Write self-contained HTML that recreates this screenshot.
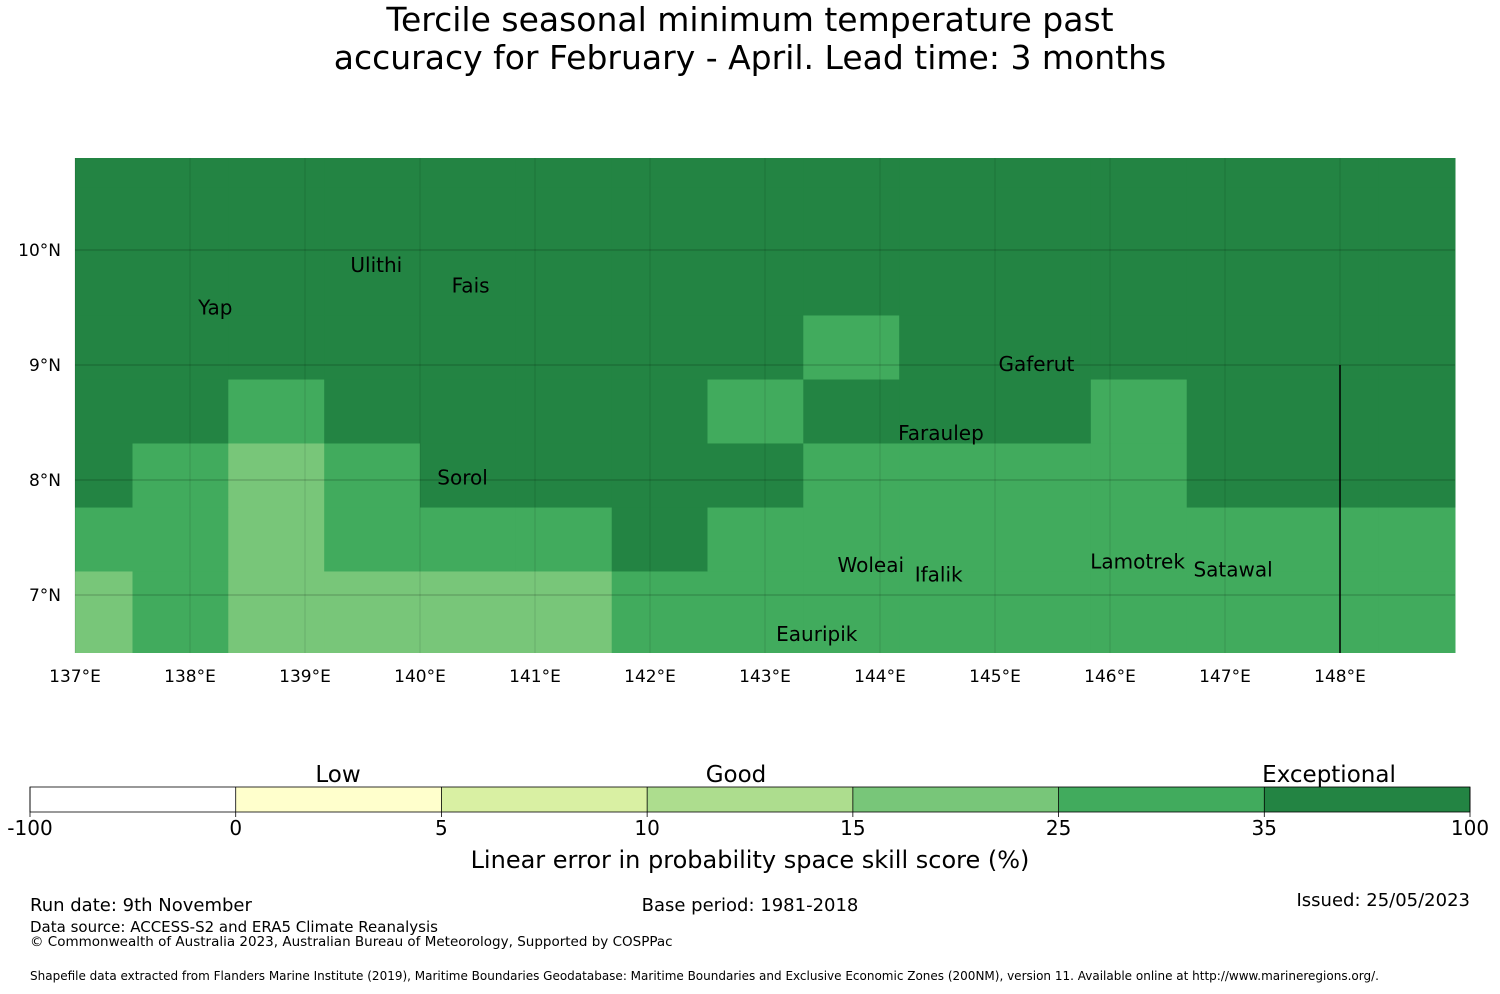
<!DOCTYPE html>
<html><head><meta charset="utf-8"><style>
body{margin:0;background:#fff;font-family:"DejaVu Sans","Liberation Sans",sans-serif;}
svg text{font-family:"DejaVu Sans","Liberation Sans",sans-serif;}
</style></head><body>
<svg id="chart" width="1500" height="990" xmlns="http://www.w3.org/2000/svg">
<text x="750" y="31" font-size="33" text-anchor="middle">Tercile seasonal minimum temperature past</text>
<text x="750" y="69" font-size="33" text-anchor="middle">accuracy for February - April. Lead time: 3 months</text>
<g id="map"></g>
<g id="cbar"></g>
<text x="338" y="782" font-size="23" text-anchor="middle">Low</text>
<text x="736" y="782" font-size="23" text-anchor="middle">Good</text>
<text x="1329" y="782" font-size="23" text-anchor="middle">Exceptional</text>
<text x="750" y="868" font-size="24" text-anchor="middle">Linear error in probability space skill score (%)</text>
<text x="30" y="911" font-size="18">Run date: 9th November</text>
<text x="750" y="911" font-size="18" text-anchor="middle">Base period: 1981-2018</text>
<text x="1470" y="906" font-size="18" text-anchor="end">Issued: 25/05/2023</text>
<text x="30" y="932" font-size="15">Data source: ACCESS-S2 and ERA5 Climate Reanalysis</text>
<text x="30" y="946" font-size="13.5">© Commonwealth of Australia 2023, Australian Bureau of Meteorology, Supported by COSPPac</text>
<text x="30" y="980" font-size="12">Shapefile data extracted from Flanders Marine Institute (2019), Maritime Boundaries Geodatabase: Maritime Boundaries and Exclusive Economic Zones (200NM), version 11. Available online at http://www.marineregions.org/.</text>
</svg>
<script>
const lonEdges=[137,137.5,138.333,139.167,140,140.833,141.667,142.5,143.333,144.167,145,145.833,146.667,147.5,148.333,149];
const latEdges=[6.5,7.209,7.765,8.322,8.878,9.435,9.991,10.548,10.8];
// skill score (%) per row (bottom to top), per column
const skillRows=[
[20,30,20,20,20,20,30,30,30,30,30,30,30,30,30],
[30,30,20,30,30,30,50,30,30,30,30,30,30,30,30],
[50,30,20,30,50,50,50,50,30,30,30,30,50,50,50],
[50,50,30,50,50,50,50,30,50,50,50,30,50,50,50],
[50,50,50,50,50,50,50,50,30,50,50,50,50,50,50],
[50,50,50,50,50,50,50,50,50,50,50,50,50,50,50],
[50,50,50,50,50,50,50,50,50,50,50,50,50,50,50],
[50,50,50,50,50,50,50,50,50,50,50,50,50,50,50]];
const lonTicks=[137,138,139,140,141,142,143,144,145,146,147,148];
const latTicks=[7,8,9,10];
const cbBounds=[-100,0,5,10,15,25,35,100];
const cbColors=['#ffffff','#ffffcc','#d9f0a3','#addd8e','#78c679','#41ab5d','#238443'];
const islands=[["Yap",138.22,9.5],["Ulithi",139.62,9.87],["Fais",140.44,9.69],["Gaferut",145.36,9.01],["Faraulep",144.53,8.41],["Sorol",140.37,8.02],["Woleai",143.92,7.26],["Ifalik",144.51,7.18],["Lamotrek",146.24,7.29],["Satawal",147.07,7.22],["Eauripik",143.45,6.66]];
const NS="http://www.w3.org/2000/svg";
const X=l=>75+(l-137)*115, Y=l=>250-(l-10)*115;
function mk(t,a,p){const e=document.createElementNS(NS,t);for(const k in a)e.setAttribute(k,a[k]);p.appendChild(e);return e;}
function col(v){for(let i=0;i<cbColors.length;i++)if(v<cbBounds[i+1])return cbColors[i];return cbColors[cbColors.length-1];}
const map=document.getElementById('map');
skillRows.forEach((row,r)=>row.forEach((v,c)=>{
 const e=mk('rect',{x:X(lonEdges[c]),y:Y(latEdges[r+1]),width:X(lonEdges[c+1])-X(lonEdges[c])+0.5,height:Y(latEdges[r])-Y(latEdges[r+1])+0.5,fill:col(v)},map);
 
 
}));
lonTicks.forEach(l=>{
 const g=mk('line',{x1:X(l),x2:X(l),y1:158,y2:653,stroke:'#000','stroke-opacity':0.12,'stroke-width':1},map);
 
 
 const t=mk('text',{x:X(l),y:682,'font-size':17,'text-anchor':'middle'},map);t.textContent=l+'°E';
 
 
});
latTicks.forEach(l=>{
 const g=mk('line',{x1:75,x2:1455,y1:Y(l),y2:Y(l),stroke:'#000','stroke-opacity':0.25,'stroke-width':1},map);
 
 
 const t=mk('text',{x:61,y:Y(l)+6,'font-size':17,'text-anchor':'end'},map);t.textContent=l+'°N';
 
 
});
const bl=mk('line',{x1:1340,x2:1340,y1:365,y2:653,stroke:'#000','stroke-width':1.5},map);


islands.forEach(s=>{
 const t=mk('text',{x:X(s[1]),y:Y(s[2])+7,'font-size':20,'text-anchor':'middle'},map);t.textContent=s[0];
 
 
});
const cb=document.getElementById('cbar');
const segW=1440/cbColors.length;
cbColors.forEach((c,i)=>{
 const r=mk('rect',{x:30+i*segW,y:787,width:segW,height:25,fill:c},cb);
 
 
});
mk('rect',{x:30,y:787,width:1440,height:25,fill:'none',stroke:'#000','stroke-width':0.8},cb);
cbBounds.forEach((b,i)=>{
 mk('line',{x1:30+i*segW,x2:30+i*segW,y1:787,y2:817,stroke:'#000','stroke-width':0.8},cb);
 const t=mk('text',{x:30+i*segW,y:835,'font-size':20,'text-anchor':'middle'},cb);t.textContent=b;
 
 
});
</script>
</body></html>
